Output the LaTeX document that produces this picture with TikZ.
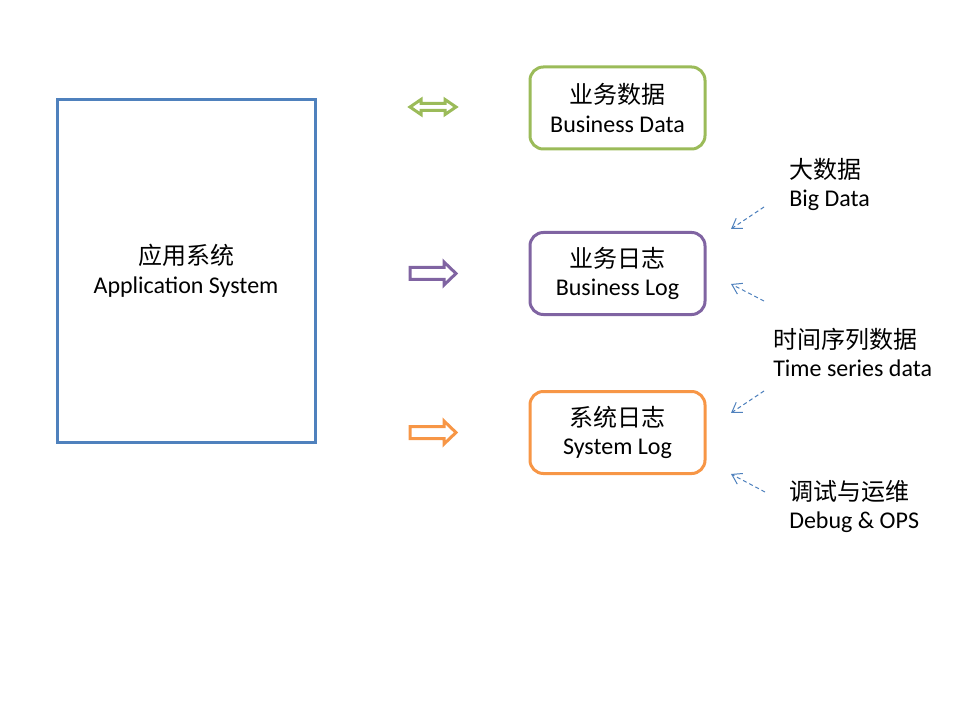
\documentclass[tikz,border=0pt]{standalone}
\usepackage{fontspec}
\setmainfont{Carlito}
\newfontfamily\cjk{Noto Sans CJK SC}
\usetikzlibrary{arrows.meta}
\definecolor{offblue}{HTML}{4F81BD}
\definecolor{offgreen}{HTML}{9BBB59}
\definecolor{offpurple}{HTML}{8064A2}
\definecolor{offorange}{HTML}{F79646}
\begin{document}
\begin{tikzpicture}[x=0.75pt,y=-0.75pt,
  txt/.style={font=\fontsize{18}{21.5}\selectfont, align=center, inner sep=0pt},
  appbox/.style={txt, draw=offblue, line width=2.25pt, minimum width=258*0.75pt, minimum height=342*0.75pt},
  rbox/.style={txt, draw=#1, line width=2.25pt, rounded corners=10pt, minimum width=175*0.75pt, minimum height=82*0.75pt, fill=white},
  lbl/.style={font=\fontsize{18}{21.5}\selectfont, align=left, inner sep=0pt, anchor=west},
  blk/.style={line width=2.25pt, line join=miter},
  dasharrow/.style={draw=offblue, line width=0.75pt, dash pattern=on 3pt off 2.2pt, -{Straight Barb[length=7pt,width=9pt,line width=0.75pt]}}
]
\useasboundingbox (0,0) rectangle (960,720);

% application system
\node[appbox] (app) at (186,271) {{\cjk 应用系统}\\Application System};

% boxes
\node[rbox=offgreen] (bd) at (617.5,108) {{\cjk 业务数据}\\Business Data};
\node[rbox=offpurple] (bl) at (617.5,273.5) {{\cjk 业务日志}\\Business Log};
\node[rbox=offorange] (sl) at (617.5,432.5) {{\cjk 系统日志}\\System Log};

% block arrows
\draw[blk, draw=offgreen] (410,107) -- (421,99.5) -- (421,103.5) -- (445,103.5) -- (445,99.5) -- (456,107)
  -- (445,114.5) -- (445,110.5) -- (421,110.5) -- (421,114.5) -- cycle;
\draw[blk, draw=offpurple] (410,267.5) -- (444,267.5) -- (444,262) -- (456,273.5) -- (444,285) -- (444,279.5) -- (410,279.5) -- cycle;
\draw[blk, draw=offorange] (410,426.5) -- (444,426.5) -- (444,421) -- (456,432.5) -- (444,444) -- (444,438.5) -- (410,438.5) -- cycle;

% labels
\node[lbl] (big) at (789,184.5) {{\cjk 大数据}\\Big Data};
\node[lbl] (ts) at (773,352.5) {{\cjk 时间序列数据}\\Time series data};
\node[lbl] (ops) at (789,506.5) {{\cjk 调试与运维}\\Debug \& OPS};

% dashed arrows
\coordinate (s1) at (764,207);
\coordinate (t1) at (731,229);
\coordinate (s2) at (764,301);
\coordinate (t2) at (731,284);
\coordinate (s3) at (764,391);
\coordinate (t3) at (731,413);
\coordinate (s4) at (765,492);
\coordinate (t4) at (731,474);
\draw[dasharrow] (s1) -- (t1);
\draw[dasharrow] (s2) -- (t2);
\draw[dasharrow] (s3) -- (t3);
\draw[dasharrow] (s4) -- (t4);
\end{tikzpicture}
\end{document}
